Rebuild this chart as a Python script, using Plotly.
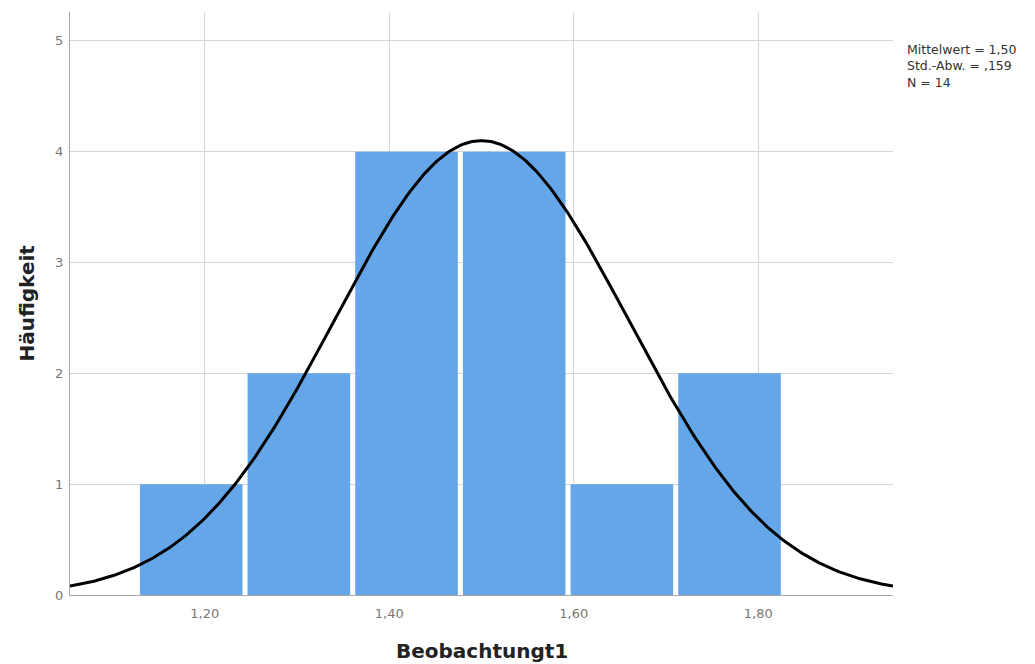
import numpy as np
import plotly.graph_objects as go

# Histogram of Beobachtungt1 (six classes) with fitted normal curve
counts = [1, 2, 4, 4, 1, 2]
bin_start = 1.127
bin_width = 0.1167
mean_val = 1.50
std_val = 0.159
n_obs = 14

x_tick_vals = [1.20, 1.40, 1.60, 1.80]
x_tick_text = ["1,20", "1,40", "1,60", "1,80"]
y_tick_vals = [0, 1, 2, 3, 4, 5]

x_title = "Beobachtungt1"
y_title = "Häufigkeit"
stats_lines = ["Mittelwert = 1,50", "Std.-Abw. = ,159", "N = 14"]

x_range = [1.054, 1.946]
y_range = [0, 5.26]

centers = [bin_start + bin_width * (i + 0.5) for i in range(len(counts))]
bar_gap = 0.0055

# normal density scaled to counts per class
xc = np.linspace(x_range[0], x_range[1], 400)
yc = n_obs * bin_width / (std_val * np.sqrt(2 * np.pi)) * np.exp(-0.5 * ((xc - mean_val) / std_val) ** 2)

fig = go.Figure()
fig.add_trace(go.Bar(
    x=centers, y=counts, width=bin_width - bar_gap,
    marker=dict(color="#64a6e8", line=dict(width=0)),
    hoverinfo="skip",
))
fig.add_trace(go.Scatter(
    x=xc, y=yc, mode="lines",
    line=dict(color="#000000", width=3),
    hoverinfo="skip",
))

# statistics block to the right of the plot
fig.add_annotation(
    xref="paper", yref="paper", x=1.0146, y=(583 - 28) / 583,
    xanchor="left", yanchor="top", align="left", showarrow=False,
    text="<br>".join(stats_lines),
    font=dict(family="DejaVu Sans", size=12.5, color="#333333"),
)

# axis titles placed at fixed offsets from the plot area
fig.add_annotation(
    xref="paper", yref="paper", x=0.5, y=0, yshift=-56,
    xanchor="center", yanchor="middle", showarrow=False,
    text=f"<b>{x_title}</b>",
    font=dict(family="DejaVu Sans", size=20, color="#222222"),
)
fig.add_annotation(
    xref="paper", yref="paper", x=0, y=0.5, xshift=-44,
    xanchor="center", yanchor="middle", showarrow=False, textangle=-90,
    text=f"<b>{y_title}</b>",
    font=dict(family="DejaVu Sans", size=20, color="#222222"),
)

fig.update_layout(
    width=1035, height=664,
    margin=dict(l=70, r=142, t=12, b=69),
    paper_bgcolor="white", plot_bgcolor="white",
    showlegend=False,
    font=dict(family="DejaVu Sans", color="#555555"),
    xaxis=dict(
        range=x_range, tickvals=x_tick_vals, ticktext=x_tick_text,
        showgrid=True, gridcolor="#d6d6d6", gridwidth=1,
        showline=True, linecolor="#a8a8a8", linewidth=1,
        ticks="", zeroline=False, ticklabelstandoff=6, automargin=False,
        tickfont=dict(size=13, color="#777777"),
    ),
    yaxis=dict(
        range=y_range, tickvals=y_tick_vals,
        showgrid=True, gridcolor="#d6d6d6", gridwidth=1,
        showline=True, linecolor="#a8a8a8", linewidth=1,
        ticks="", zeroline=False, ticklabelstandoff=3, automargin=False,
        tickfont=dict(size=13, color="#777777"),
    ),
)

fig.write_html("out.html")
